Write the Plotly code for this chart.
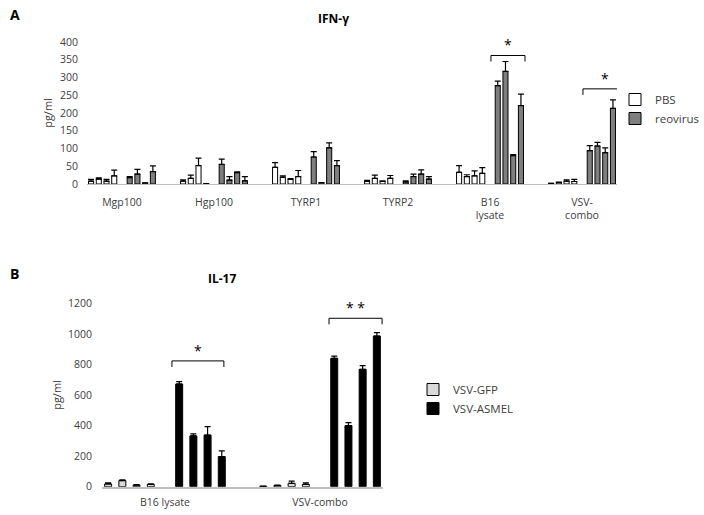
import plotly.graph_objects as go

# ---- panel A: IFN-gamma ----
ifn_categories = ['Mgp100', 'Hgp100', 'TYRP1', 'TYRP2', 'B16<br>lysate', 'VSV-<br>combo']
ifn_pbs = [[8, 14, 8, 23], [8, 16, 52, 1], [47, 19, 13, 21],
           [7, 16, 7, 16], [33, 21, 23, 30], [2, 4, 8, 7]]
ifn_pbs_err = [[5, 3, 5, 16], [4, 9, 21, 0], [13, 4, 2, 17],
               [3, 9, 2, 8], [19, 5, 14, 16], [0, 1, 4, 6]]
ifn_reo = [[18, 28, 3, 35], [55, 11, 32, 9], [76, 4, 102, 52],
           [6, 21, 28, 14], [277, 317, 80, 221], [94, 107, 88, 213]]
ifn_reo_err = [[3, 13, 0, 16], [15, 10, 2, 12], [15, 0, 14, 14],
               [3, 7, 12, 7], [13, 28, 3, 32], [14, 10, 14, 24]]

# ---- panel B: IL-17 ----
il_categories = ['B16 lysate', 'VSV-combo']
il_gfp = [[18, 40, 10, 15], [3, 8, 22, 15]]
il_gfp_err = [[8, 5, 3, 4], [1, 2, 15, 10]]
il_asmel = [[672, 332, 338, 197], [840, 400, 768, 986]]
il_asmel_err = [[15, 13, 55, 37], [15, 19, 24, 22]]

# significance brackets: (category index, left offset, right offset, height, label)
ifn_sig = [(4, 0.01, 0.38, 362, '*'), (5, 0.01, 0.49, 268, '*')]
il_sig = [(0, 0.045, 0.38, 823, '*'), (1, 0.058, 0.40, 1102, '* *')]

FONT = 'Open Sans'
TXT = '#404040'
W, H = 704, 515


def px_x(p):
    return p / W


def px_y(p):
    return 1 - p / H


def positions(data, err, pitch, first_slot):
    xs, ys, es = [], [], []
    for i, (vals, errs) in enumerate(zip(data, err)):
        for j, (v, e) in enumerate(zip(vals, errs)):
            xs.append(i + (first_slot + j) * pitch)
            ys.append(v)
            es.append(e)
    return xs, ys, es


fig = go.Figure()

top_pitch = 0.084
bot_pitch = 0.0916


def add_bars(data, err, pitch, slot, width, name, color, xa, ya, legend):
    xs, ys, es = positions(data, err, pitch, slot)
    fig.add_trace(go.Bar(
        x=xs, y=ys, width=width, name=name,
        marker=dict(color=color, line=dict(color='black', width=1)),
        error_y=dict(type='data', array=es, arrayminus=[0] * len(es),
                     symmetric=False, color='black', thickness=1.2, width=3),
        xaxis=xa, yaxis=ya, legend=legend,
    ))


add_bars(ifn_pbs, ifn_pbs_err, top_pitch, -4, 0.055, 'PBS', 'white', 'x', 'y', 'legend')
add_bars(ifn_reo, ifn_reo_err, top_pitch, 1, 0.055, 'reovirus', '#7f7f7f', 'x', 'y', 'legend')
add_bars(il_gfp, il_gfp_err, bot_pitch, -4, 0.045, 'VSV-GFP', '#d9d9d9', 'x2', 'y2', 'legend2')
add_bars(il_asmel, il_asmel_err, bot_pitch, 1, 0.045, 'VSV-ASMEL', 'black', 'x2', 'y2', 'legend2')

# significance brackets
shapes, annotations = [], []
for sig, xr, yr, drop in [(ifn_sig, 'x', 'y', 17), (il_sig, 'x2', 'y2', 40)]:
    for c, lo, hi, h, lab in sig:
        x0, x1 = c + lo, c + hi
        shapes.append(dict(type='path', xref=xr, yref=yr,
                           path=f'M {x0},{h - drop} L {x0},{h} L {x1},{h} L {x1},{h - drop}',
                           line=dict(color='black', width=1)))
        annotations.append(dict(x=(x0 + x1) / 2, y=h, xref=xr, yref=yr, text=lab,
                                showarrow=False, yanchor='bottom', yshift=-1,
                                font=dict(family=FONT, size=14, color='black')))

# panel letters and titles
for txt, x, y, size in [('<b>A</b>', 15, 14, 14), ('<b>B</b>', 15, 273, 14),
                        ('<b>IFN-γ</b>', 333, 18, 12), ('<b>IL-17</b>', 222, 278, 12)]:
    annotations.append(dict(x=px_x(x), y=px_y(y), xref='paper', yref='paper', text=txt,
                            showarrow=False, xanchor='center', yanchor='middle',
                            font=dict(family=FONT, size=size, color='black')))

axis_common = dict(showgrid=False, zeroline=False, ticks='', automargin=False,
                   tickfont=dict(family=FONT, size=10.5, color=TXT))

fig.update_layout(
    width=W, height=H,
    margin=dict(l=0, r=0, t=0, b=0, autoexpand=False),
    paper_bgcolor='white', plot_bgcolor='white',
    barmode='overlay',
    shapes=shapes, annotations=annotations,
    xaxis=dict(domain=[px_x(87), px_x(617)], range=[-0.38, 5.38],
               tickvals=list(range(len(ifn_categories))), ticktext=ifn_categories,
               ticklabelstandoff=8,
               showline=True, linecolor='#bfbfbf', linewidth=1, anchor='y', **axis_common),
    yaxis=dict(domain=[px_y(184), px_y(42)], range=[0, 400], dtick=50,
               showline=False, anchor='x', ticklabelstandoff=8,
               title=dict(text='pg/ml', standoff=5, font=dict(family=FONT, size=11, color=TXT)),
               **axis_common),
    xaxis2=dict(domain=[px_x(102), px_x(383)], range=[-0.406, 1.406],
                tickvals=list(range(len(il_categories))), ticktext=il_categories,
                ticklabelstandoff=5,
                showline=True, linecolor='#bfbfbf', linewidth=1.5, anchor='y2', **axis_common),
    yaxis2=dict(domain=[px_y(486.7), px_y(303.3)], range=[0, 1200], dtick=200,
                showline=False, anchor='x2', ticklabelstandoff=9,
                title=dict(text='pg/ml', standoff=4, font=dict(family=FONT, size=11, color=TXT)),
                **axis_common),
    legend=dict(x=px_x(615), y=px_y(85), xanchor='left', yanchor='top',
                font=dict(family=FONT, size=11.5, color=TXT), bgcolor='rgba(0,0,0,0)'),
    legend2=dict(x=px_x(413), y=px_y(375), xanchor='left', yanchor='top',
                 font=dict(family=FONT, size=11.5, color=TXT), bgcolor='rgba(0,0,0,0)'),
)

# drop the default page margin so the figure sits at the window corner
fig.write_html('out.html', config={'displayModeBar': False},
               post_script="document.body.style.margin = '0';")
